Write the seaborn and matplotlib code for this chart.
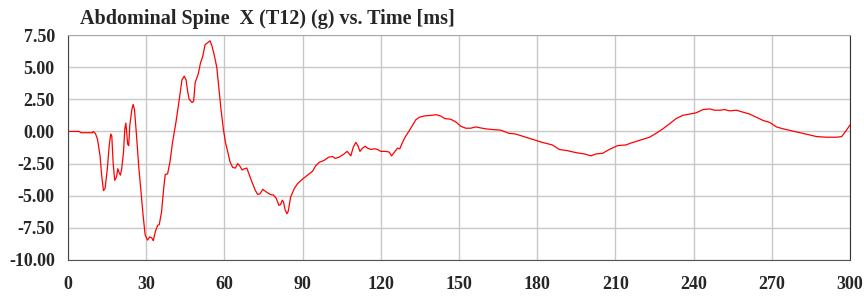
import numpy as np
import pandas as pd
import matplotlib
matplotlib.use("Agg")
import matplotlib.pyplot as plt
from matplotlib.ticker import MultipleLocator, FormatStrFormatter
import seaborn as sns

# time [ms] and acceleration [g]
time_ms = [
    0, 4.2, 5, 9.4, 9.7, 10.5, 11.3, 12.3, 12.9,
    13.6, 14.2, 15.1, 15.8, 16.4, 16.8, 17.3, 17.9, 18.6, 19.1,
    19.6, 20.1, 20.6, 21.3, 21.8, 22.2, 22.6, 22.9, 23.3, 23.7,
    24.5, 25.0, 25.5, 26.3, 27.1, 27.9, 28.8, 29.6, 30.5, 31.4,
    32.2, 32.7, 33.5, 34.4, 35.0, 35.9, 36.7, 37.3, 38.2, 39.1,
    40.1, 41.4, 42.7, 43.7, 44.6, 45.3, 46.0, 46.5, 47.6, 48.2,
    48.8, 49.4, 50.0, 50.8, 51.7, 52.6, 53.6, 54.5, 55.3, 56.2,
    57.1, 57.8, 58.7, 59.6, 60.4, 61.3, 62.2, 63.2, 64.2, 65.1,
    65.8, 66.8, 67.7, 68.6, 69.6, 70.6, 71.9, 72.8, 73.7, 74.7,
    76.0, 77.6, 78.8, 79.9, 80.9, 81.5, 82.2, 82.7, 83.3, 84.0,
    84.5, 85.4, 86.8, 88.1, 90.0, 91.9, 93.8, 95.1, 96.4, 98.3,
    100.0, 101.5, 102.5, 104.0, 105.6, 107.1, 107.9, 108.5, 109.4, 110.4,
    111.2, 112.0, 113.0, 114.0, 114.9, 116.2, 117.5, 118.7, 120.0, 121.7,
    123.2, 124.1, 125.1, 126.4, 127.3, 128.0, 129.3, 130.9, 132.1, 133.4,
    134.7, 136.6, 139.2, 141.3, 143.0, 144.5, 146.8, 148.7, 150.7, 152.6,
    154.5, 156.4, 157.7, 160.2, 162.8, 166.0, 169.2, 171.7, 175.6, 178.8,
    181.9, 185.8, 188.5, 191.7, 194.9, 198.1, 200.6, 202.6, 205.1, 207.7,
    210.9, 214.1, 216.0, 219.9, 223.1, 225.6, 228.2, 230.8, 233.3, 235.9,
    238.5, 241.0, 243.6, 246.2, 248.1, 250.0, 251.9, 253.8, 256.4, 259.0,
    261.5, 264.1, 266.7, 269.2, 271.8, 274.4, 277.6, 280.8, 284.0, 287.2,
    291.0, 294.9, 296.8, 298.5, 300.0,
]
accel_g = [
    0, 0, -0.1, -0.1, 0, -0.15, -0.6, -1.9, -3.4,
    -4.6, -4.45, -2.9, -1.1, -0.2, -0.35, -2.4, -3.8, -3.55, -2.9,
    -3.2, -3.4, -2.9, -1.6, 0.2, 0.65, -0.35, -1.0, -1.1, 0.45,
    1.7, 2.1, 1.7, -0.35, -2.65, -4.45, -6.5, -8.05, -8.45, -8.2,
    -8.3, -8.5, -7.8, -7.3, -7.25, -6.25, -4.45, -3.35, -3.3, -2.4,
    -0.85, 0.7, 2.5, 4.0, 4.3, 4.0, 3.0, 2.5, 2.25, 2.35,
    3.8, 4.15, 4.5, 5.3, 5.85, 6.75, 6.9, 7.05, 6.6, 5.85,
    4.95, 3.5, 1.7, 0.2, -0.85, -1.6, -2.4, -2.8, -2.85, -2.5,
    -2.65, -3.0, -2.9, -2.85, -3.4, -3.95, -4.6, -4.9, -4.85, -4.5,
    -4.7, -4.9, -4.95, -5.2, -5.75, -5.7, -5.35, -5.5, -6.1, -6.4,
    -6.2, -5.1, -4.45, -4.05, -3.7, -3.4, -3.1, -2.65, -2.4, -2.25,
    -2.0, -1.95, -2.1, -2.0, -1.8, -1.55, -1.75, -1.9, -1.25, -0.85,
    -1.1, -1.55, -1.3, -1.15, -1.3, -1.4, -1.35, -1.4, -1.55, -1.55,
    -1.6, -1.9, -1.65, -1.3, -1.35, -1.0, -0.45, 0.05, 0.45, 0.9,
    1.1, 1.2, 1.25, 1.3, 1.2, 1.0, 0.95, 0.75, 0.4, 0.25,
    0.25, 0.35, 0.3, 0.2, 0.15, 0.1, -0.15, -0.2, -0.45, -0.65,
    -0.85, -1.05, -1.4, -1.5, -1.65, -1.75, -1.9, -1.75, -1.7, -1.4,
    -1.1, -1.05, -0.9, -0.65, -0.45, -0.15, 0.2, 0.6, 1.0, 1.25,
    1.35, 1.45, 1.7, 1.75, 1.65, 1.65, 1.7, 1.6, 1.65, 1.5,
    1.35, 1.1, 0.85, 0.7, 0.35, 0.2, 0.05, -0.1, -0.25, -0.4,
    -0.45, -0.45, -0.4, 0.05, 0.5,
]
title = "Abdominal Spine  X (T12) (g) vs. Time [ms]"

df = pd.DataFrame({"t": time_ms, "g": accel_g})

sns.set_style("white")
plt.rcParams["font.family"] = ["Liberation Serif", "DejaVu Serif"]
plt.rcParams["font.weight"] = "bold"

fig = plt.figure(figsize=(8.64, 2.97), dpi=100)
ax = fig.add_axes([68 / 864, 1 - 260 / 297, 782 / 864, 225 / 297])

sns.lineplot(data=df, x="t", y="g", ax=ax, color="#ff0000", linewidth=0.9)

ax.set_xlim(0, 300)
ax.set_ylim(-10, 7.5)
ax.set_xlabel("")
ax.set_ylabel("")

ax.xaxis.set_major_locator(MultipleLocator(30))
ax.xaxis.set_minor_locator(MultipleLocator(6))
ax.yaxis.set_major_locator(MultipleLocator(2.5))
ax.yaxis.set_minor_locator(MultipleLocator(1.25))
ax.yaxis.set_major_formatter(FormatStrFormatter("%.2f"))

ax.grid(True, which="major", color="#c8c8c8", linewidth=1)

ax.tick_params(axis="x", which="major", direction="inout", length=17, width=1,
               color="#222222", labelsize=13, pad=3)
ax.tick_params(axis="x", which="minor", direction="inout", length=7, width=1,
               color="#333333")
ax.tick_params(axis="y", which="major", direction="out", length=8.5, width=1,
               color="#222222", labelsize=13, pad=1)
ax.tick_params(axis="y", which="minor", direction="inout", length=6, width=1,
               color="#333333")
for lab in ax.get_xticklabels() + ax.get_yticklabels():
    lab.set_fontweight("bold")

ax.spines["left"].set_color("#444444")
ax.spines["bottom"].set_color("#555555")
ax.spines["top"].set_color("#a8a8a8")
ax.spines["right"].set_color("#333333")

fig.text(80 / 864, 1 - 24 / 297, title, fontsize=14.5, fontweight="bold",
         ha="left", va="baseline")

fig.savefig("out.png", dpi=100)
